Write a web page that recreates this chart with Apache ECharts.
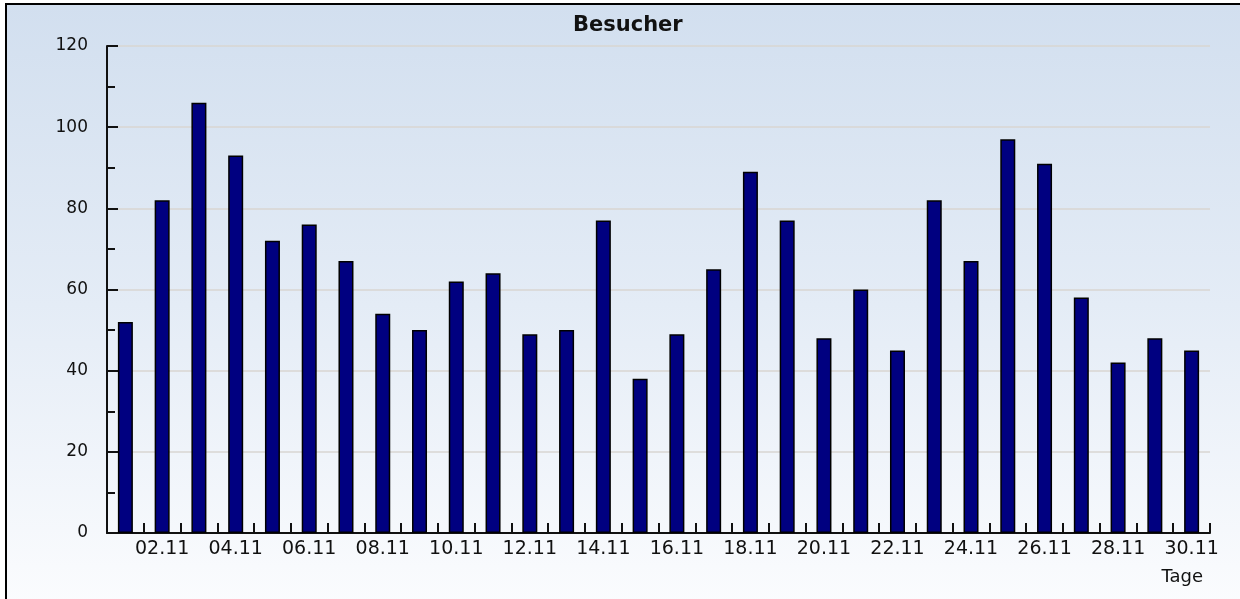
<!DOCTYPE html>
<html>
<head>
<meta charset="utf-8">
<script src="https://cdn.jsdelivr.net/npm/echarts@6/dist/echarts.min.js"></script>
<style>
  html, body { margin: 0; padding: 0; background: #ffffff; }
  #bg { position: absolute; left: 5px; top: 3px; width: 1240px; height: 600px;
        border-left: 2px solid #000; border-top: 2px solid #000;
        background: linear-gradient(to bottom, #d2dfef 0%, #e4ecf6 50%, #fbfcfe 100%); }
  #chart { position: absolute; left: 0; top: 0; width: 1240px; height: 599px; }
</style>
</head>
<body>
<div id="bg"></div>
<div id="chart"></div>
<script>
const categories = ["01.11","02.11","03.11","04.11","05.11","06.11","07.11","08.11","09.11","10.11",
                    "11.11","12.11","13.11","14.11","15.11","16.11","17.11","18.11","19.11","20.11",
                    "21.11","22.11","23.11","24.11","25.11","26.11","27.11","28.11","29.11","30.11"];
const besucher = [52, 82, 106, 93, 72, 76, 67, 54, 50, 62,
                  64, 49, 50, 77, 38, 49, 65, 89, 77, 48,
                  60, 45, 82, 67, 97, 91, 58, 42, 48, 45];
const titleText = "Besucher";
const xAxisName = "Tage";

const font = "DejaVu Sans";
const chart = echarts.init(document.getElementById('chart'), null, { renderer: 'canvas' });
chart.setOption({
  backgroundColor: 'transparent',
  animation: false,
  title: {
    text: titleText,
    left: 568,
    top: 10,
    textStyle: { fontFamily: font, fontSize: 21, fontWeight: 'bold', color: '#111' }
  },
  grid: { left: 107, right: 30, top: 46, bottom: 66 },
  xAxis: {
    type: 'category',
    data: categories,
    boundaryGap: true,
    name: xAxisName,
    nameLocation: 'end',
    nameGap: -7,
    nameTextStyle: { fontFamily: font, fontSize: 18, color: '#111', align: 'right', verticalAlign: 'top', padding: [35, 0, 0, 0] },
    axisLine: { lineStyle: { color: '#111', width: 2 } },
    axisTick: { show: true, inside: true, length: 10, interval: 0, lineStyle: { color: '#111', width: 2 } },
    axisLabel: {
      interval: function (i) { return i % 2 === 1; },
      margin: 7,
      fontFamily: font, fontSize: 19, color: '#111'
    },
    splitLine: { show: false }
  },
  yAxis: {
    type: 'value',
    min: 0, max: 120, interval: 20,
    axisLine: { show: true, lineStyle: { color: '#111', width: 2 } },
    axisTick: { show: true, inside: true, length: 11, lineStyle: { color: '#111', width: 2 } },
    minorTick: { show: true, splitNumber: 2, length: 8, lineStyle: { color: '#111', width: 2 } },
    axisLabel: { margin: 19, fontFamily: font, fontSize: 17, color: '#111' },
    splitLine: { show: true, lineStyle: { color: '#d9d6d2', width: 1.5 } }
  },
  series: [{
    type: 'bar',
    data: besucher,
    barWidth: 15,
    itemStyle: { color: '#000080', borderColor: '#000', borderWidth: 1.5 }
  }]
});
</script>
</body>
</html>
